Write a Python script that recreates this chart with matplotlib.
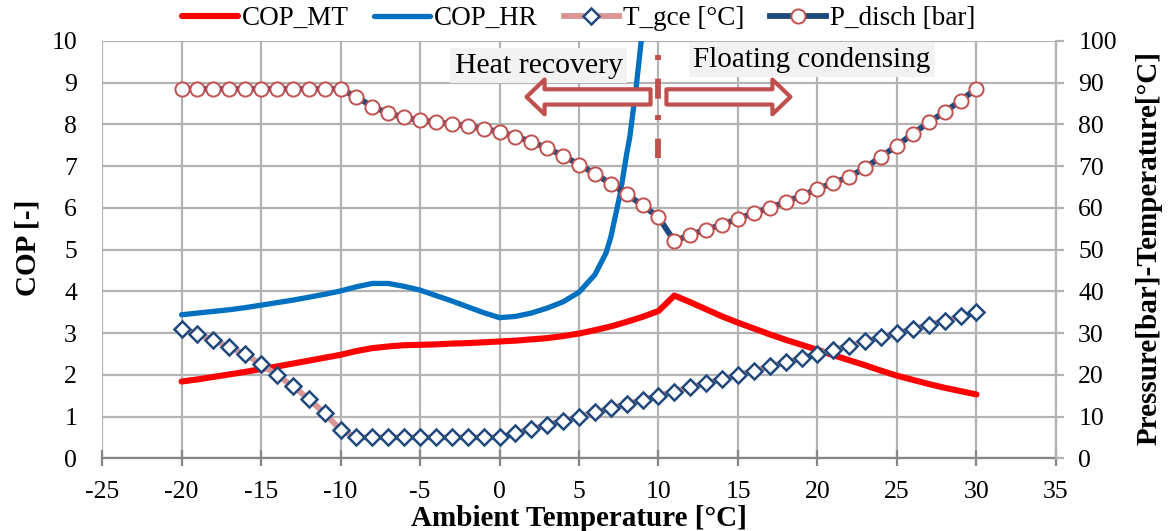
import numpy as np
import matplotlib.pyplot as plt

plt.rcParams['font.family'] = ['Liberation Serif', 'DejaVu Serif']
plt.rcParams['axes.unicode_minus'] = False

# ambient temperature, 1 degC steps
t_amb = list(range(-20, 31))

cop_mt = [1.84, 1.89, 1.95, 2.01, 2.07, 2.14, 2.20, 2.27, 2.34, 2.41,
          2.48, 2.57, 2.64, 2.68, 2.71, 2.72, 2.73, 2.75, 2.76, 2.78,
          2.80, 2.82, 2.85, 2.88, 2.93, 2.99, 3.07, 3.16, 3.27, 3.39,
          3.53, 3.90, 3.74, 3.57, 3.40, 3.25, 3.11, 2.97, 2.84, 2.72,
          2.60, 2.47, 2.35, 2.23, 2.10, 1.98, 1.88, 1.78, 1.69, 1.61,
          1.53]

# heat recovery COP, runs off scale just below 9 degC
t_hr = [-20, -19, -18, -17, -16, -15, -14, -13, -12, -11,
        -10, -9, -8, -7, -6, -5, -4, -3, -2, -1,
        0, 1, 2, 3, 4, 5, 6, 6.7, 7, 7.6, 8, 8.2, 8.6, 9]
cop_hr = [3.44, 3.48, 3.52, 3.56, 3.61, 3.67, 3.73, 3.79, 3.86, 3.93,
          4.01, 4.11, 4.19, 4.19, 4.12, 4.03, 3.90, 3.77, 3.63, 3.49,
          3.37, 3.40, 3.48, 3.60, 3.75, 3.98, 4.40, 4.92, 5.30, 6.36,
          7.30, 7.71, 8.91, 10.30]

t_gce = [31.0, 29.7, 28.4, 26.6, 25.0, 22.5, 20.0, 17.3, 14.2, 10.8,
         6.8, 5.0, 5.0, 5.0, 5.0, 5.0, 5.0, 5.0, 5.0, 5.0,
         5.0, 6.0, 7.0, 8.0, 9.0, 10.0, 11.0, 12.0, 13.0, 14.0,
         15.0, 16.0, 17.0, 18.0, 19.0, 20.0, 21.0, 22.0, 23.0, 24.0,
         25.0, 26.0, 27.0, 28.0, 29.0, 30.0, 31.0, 32.0, 33.0, 34.0,
         35.0]

p_disch = [88.5, 88.5, 88.5, 88.5, 88.5, 88.5, 88.5, 88.5, 88.5, 88.5,
           88.5, 86.6, 84.3, 82.7, 81.7, 81.0, 80.6, 80.1, 79.7, 78.9,
           78.3, 77.1, 75.9, 74.3, 72.5, 70.4, 68.2, 65.8, 63.3, 60.6,
           57.8, 52.0, 53.6, 54.8, 56.0, 57.4, 58.8, 60.0, 61.5, 62.9,
           64.6, 66.0, 67.5, 69.6, 72.3, 74.9, 77.8, 80.5, 83.0, 85.7,
           88.6]

grid_c = '#b3b3b3'
arrow_c = '#c0504d'

fig = plt.figure(figsize=(11.69, 5.31), dpi=100)
ax = fig.add_axes([0.0873, 0.1369, 0.8160, 0.7859])
ax2 = ax.twinx()

l1, = ax.plot(t_amb, cop_mt, color='#ff0000', lw=4.4, label='COP_MT',
              solid_joinstyle='round', solid_capstyle='round', zorder=3)
l2, = ax.plot(t_hr, cop_hr, color='#0070c0', lw=3.8, label='COP_HR',
              solid_joinstyle='round', solid_capstyle='round', zorder=3)

l3, = ax2.plot(t_amb, t_gce, color='#d99694', lw=4.2, marker='D', ms=8.5,
               mfc='white', mec='#1f497d', mew=1.8, label='T_gce [°C]')
l4, = ax2.plot(t_amb, p_disch, color='#1f497d', lw=4.2, marker='o', ms=10.2,
               mfc='white', mec=arrow_c, mew=1.4, label='P_disch [bar]')

ax.set_xlim(-25, 35)
ax.set_ylim(0, 10)
ax2.set_ylim(0, 100)
ax.set_xticks(np.arange(-25, 36, 5))
ax.set_yticks(np.arange(0, 11, 1))
ax2.set_yticks(np.arange(0, 101, 10))

ax.grid(True, color=grid_c, lw=1.6)
ax.set_axisbelow(True)
for s in ['left', 'top']:
    ax.spines[s].set_visible(False)
    ax2.spines[s].set_visible(False)
ax.spines['right'].set_visible(False)
ax2.spines['bottom'].set_visible(False)
ax.spines['bottom'].set_color('#868686')
ax.spines['bottom'].set_linewidth(1.6)
ax2.spines['right'].set_color(grid_c)
ax2.spines['right'].set_linewidth(1.6)

ax.tick_params(axis='x', direction='inout', length=12, width=1.6,
               color='#868686', labelsize=18.5, pad=10)
ax.tick_params(axis='y', length=0, labelsize=18.5, pad=18)
ax2.tick_params(axis='y', direction='out', length=6, width=1.6,
                color=grid_c, labelsize=18.5, pad=10)

ax.set_xlabel('Ambient Temperature [°C]', fontsize=21, fontweight='bold')
ax.xaxis.label.set_va('center')
ax.xaxis.set_label_coords(0.5, -0.145)
ax.set_ylabel('COP [-]', fontsize=21, fontweight='bold')
ax.yaxis.label.set_va('center')
ax.yaxis.set_label_coords(-0.078, 0.505)
ax2.set_ylabel('Pressure[bar]-Temperature[°C]', fontsize=21,
               fontweight='bold', rotation=90)
ax2.yaxis.label.set_va('center')
ax2.yaxis.set_label_coords(1.098, 0.505)

# regime annotations
box = dict(boxstyle='square,pad=0.15', fc='#f2f2f2', ec='none')
ax.text(2.47, 9.41, 'Heat recovery', fontsize=21.5, ha='center',
        va='center', bbox=box, zorder=5)
ax.text(19.65, 9.55, 'Floating condensing', fontsize=21, ha='center',
        va='center', bbox=box, zorder=5)

astyle = 'simple,head_length=0.65,head_width=1.25,tail_width=0.55'
ax.annotate('', xy=(1.7, 8.66), xytext=(9.5, 8.66),
            arrowprops=dict(arrowstyle=astyle, fc='white', ec=arrow_c,
                            lw=3, shrinkA=0, shrinkB=0, mutation_scale=20),
            zorder=6)
ax.annotate('', xy=(18.3, 8.66), xytext=(10.5, 8.66),
            arrowprops=dict(arrowstyle=astyle, fc='white', ec=arrow_c,
                            lw=3, shrinkA=0, shrinkB=0, mutation_scale=20),
            zorder=6)
ax.plot([10, 10], [9.67, 7.2], color=arrow_c, lw=4.2,
        dash_capstyle='butt', dashes=(0.86, 3.2, 3.43, 2.8), zorder=6)

fig.legend(handles=[l1, l2, l3, l4], loc='center', ncol=4,
           frameon=False, fontsize=19.5, bbox_to_anchor=(0.495, 0.965),
           handlelength=2.05, handletextpad=0.15, columnspacing=0.95,
           borderaxespad=0)

fig.savefig('out.png', dpi=100)
